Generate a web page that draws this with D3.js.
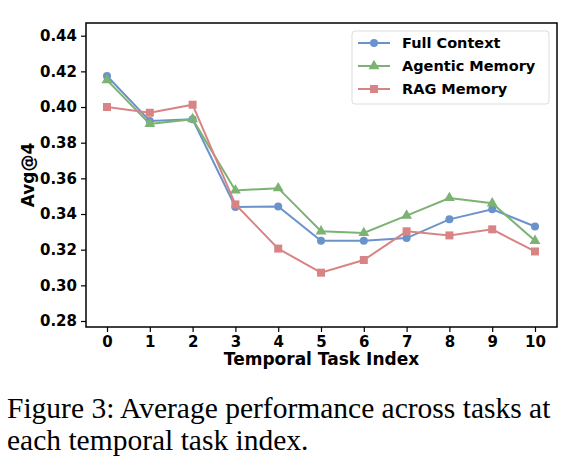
<!DOCTYPE html><html><head><script src="https://cdn.jsdelivr.net/npm/d3@7"></script>
<style>body{margin:0;background:#fff}</style></head><body><svg id="c" width="578" height="473"></svg>
<script>
const xs=[0,1,2,3,4,5,6,7,8,9,10];
const fullContext=[0.4174,0.3922,0.3931,0.3440,0.3442,0.3250,0.3250,0.3265,0.3370,0.3427,0.3330];
const agentic=[0.4151,0.3905,0.3932,0.3532,0.3545,0.3303,0.3294,0.3391,0.3490,0.3460,0.3250];
const rag=[0.4000,0.3968,0.4013,0.3454,0.3206,0.3071,0.3142,0.3303,0.3280,0.3314,0.3190];
const yTicks=[0.28,0.30,0.32,0.34,0.36,0.38,0.40,0.42,0.44];
const names=["Full Context","Agentic Memory","RAG Memory"];
const colors=["#6a93cc","#7cb272","#d98484"];
const svg=d3.select("#c");
const L=86,R=557,T=23,B=327;
const x=d3.scaleLinear().domain([0,10]).range([107,535]);
const y=d3.scaleLinear().domain([0.28,0.44]).range([321,35.7]);
const font="DejaVu Sans";
const ga=svg.append("g").attr("transform",`translate(${L},0)`).call(d3.axisLeft(y).tickValues(yTicks).tickFormat(d3.format(".2f")).tickSize(5).tickPadding(4));
const gb=svg.append("g").attr("transform",`translate(0,${B})`).call(d3.axisBottom(x).tickValues(xs).tickSize(5).tickPadding(4));
[ga,gb].forEach(g=>{g.select(".domain").remove();g.selectAll("line").attr("stroke","#000").attr("stroke-width",1.2);g.selectAll("text").attr("font-family",font).attr("font-weight","bold").attr("font-size",15).attr("fill","#000");});
svg.append("rect").attr("x",L).attr("y",T).attr("width",R-L).attr("height",B-T).attr("fill","none").attr("stroke","#000").attr("stroke-width",1.5);
svg.append("text").attr("transform",`translate(34,${(T+B)/2}) rotate(-90)`).attr("text-anchor","middle").attr("font-family",font).attr("font-weight","bold").attr("font-size",17).text("Avg@4");
svg.append("text").attr("x",(L+R)/2).attr("y",365).attr("text-anchor","middle").attr("font-family",font).attr("font-weight","bold").attr("font-size",17).text("Temporal Task Index");
const series=[fullContext,agentic,rag];
const line=d3.line().x((d,i)=>x(xs[i])).y(d=>y(d));
function marker(g,k,cx,cy,s){
 if(k===0)g.append("circle").attr("cx",cx).attr("cy",cy).attr("r",s).attr("fill",colors[k]);
 else if(k===1)g.append("path").attr("d",d3.symbol(d3.symbolTriangle,s*s*3.2)()).attr("transform",`translate(${cx},${cy})`).attr("fill",colors[k]);
 else g.append("rect").attr("x",cx-s).attr("y",cy-s).attr("width",2*s).attr("height",2*s).attr("fill",colors[k]);
}
series.forEach((s,k)=>{
 const g=svg.append("g");
 g.append("path").attr("d",line(s)).attr("fill","none").attr("stroke",colors[k]).attr("stroke-width",2);
 s.forEach((v,i)=>marker(g,k,x(xs[i]),y(v),4));
});
const lg=svg.append("g");
lg.append("rect").attr("x",352).attr("y",31).attr("width",197).attr("height",73).attr("rx",3).attr("fill","#fff").attr("fill-opacity",0.85).attr("stroke","#ddd");
names.forEach((n,k)=>{
 const yy=43+k*23;
 lg.append("line").attr("x1",358).attr("x2",390).attr("y1",yy).attr("y2",yy).attr("stroke",colors[k]).attr("stroke-width",2);
 marker(lg,k,374,yy,4);
 lg.append("text").attr("x",402).attr("y",yy+5).attr("font-family",font).attr("font-weight","bold").attr("font-size",14.5).text(n);
});
const cap=["Figure 3: Average performance across tasks at","each temporal task index."];
cap.forEach((t,i)=>svg.append("text").attr("x",7).attr("y",418+i*32).attr("font-family","Liberation Serif").attr("font-size",29.5).text(t));
</script></body></html>
